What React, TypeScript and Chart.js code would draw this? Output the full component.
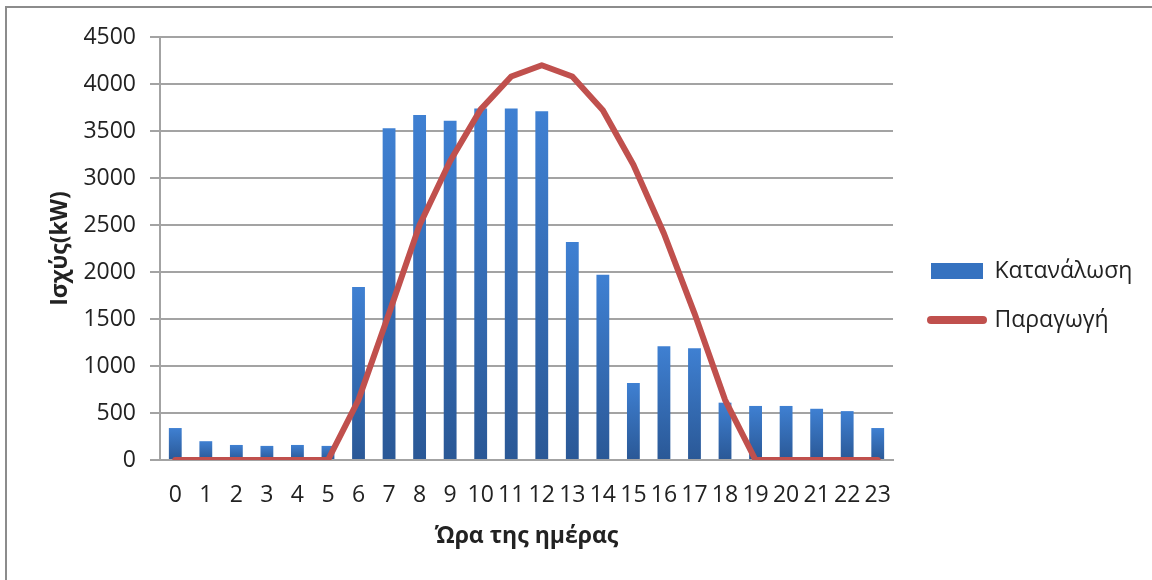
import React, { useEffect, useRef } from "react";
import { Chart, registerables } from "chart.js";

Chart.register(...registerables);

const hours = ["0","1","2","3","4","5","6","7","8","9","10","11","12","13","14","15","16","17","18","19","20","21","22","23"];
const consumption = [340, 200, 160, 150, 160, 150, 1840, 3530, 3670, 3610, 3740, 3740, 3710, 2320, 1970, 820, 1210, 1190, 610, 575, 575, 545, 520, 340];
const production = [0, 0, 0, 0, 0, 0, 640, 1560, 2500, 3180, 3730, 4080, 4200, 4080, 3720, 3140, 2410, 1560, 640, 0, 0, 0, 0, 0];
const yMin = 0;
const yMax = 4500;
const yStep = 500;
const seriesNames = ["Κατανάλωση", "Παραγωγή"];
const xTitle = "Ώρα της ημέρας";
const yTitle = "Ισχύς(kW)";

const FONT = "'Open Sans', 'Noto Sans', sans-serif";
const TEXT = "#222222";
const GRID = "#a3a3a3";
const BAR_TOP = "#3f80d2";
const BAR_BOTTOM = "#2a5896";
const RED = "#c0504d";

const legendNudge = {
  id: "legendNudge",
  afterLayout(chart: any) {
    const l = chart.legend;
    if (!l) return;
    l.left += 12;
    l.right += 12;
    l.top += 2;
    l.bottom += 2;
  },
};

export default function App() {
  const ref = useRef<HTMLCanvasElement | null>(null);

  useEffect(() => {
    if (!ref.current) return;
    const chart = new Chart(ref.current, {
      type: "bar",
      data: {
        labels: hours,
        datasets: [
          {
            type: "bar",
            label: seriesNames[0],
            data: consumption,
            order: 1,
            backgroundColor: (ctx: any) => {
              const c = ctx.chart;
              const area = c.chartArea;
              if (!area || ctx.type !== "data") return BAR_TOP;
              const top = c.scales.y.getPixelForValue(ctx.raw);
              const g = c.ctx.createLinearGradient(0, top, 0, area.bottom);
              g.addColorStop(0, BAR_TOP);
              g.addColorStop(1, BAR_BOTTOM);
              return g;
            },
            borderWidth: 0,
            categoryPercentage: 1,
            barPercentage: 0.42,
          } as any,
          {
            type: "line",
            label: seriesNames[1],
            data: production,
            order: 0,
            borderColor: RED,
            backgroundColor: RED,
            borderWidth: 6,
            pointRadius: 0,
            tension: 0,
            borderCapStyle: "round",
            borderJoinStyle: "round",
          } as any,
        ],
      },
      options: {
        responsive: false,
        animation: false,
        devicePixelRatio: 1,
        layout: { padding: { left: 0, top: 37, right: 29, bottom: 30 } },
        plugins: {
          tooltip: { enabled: false },
          legend: {
            position: "right",
            maxWidth: 230,
            labels: {
              usePointStyle: true,
              pointStyleWidth: 52,
              boxHeight: 16,
              padding: 26,
              color: TEXT,
              font: { family: FONT, size: 23 },
              generateLabels: () => [
                {
                  text: seriesNames[0],
                  fillStyle: "#3572c0",
                  strokeStyle: "#3572c0",
                  lineWidth: 0,
                  pointStyle: "rect",
                  hidden: false,
                  datasetIndex: 0,
                  fontColor: TEXT,
                } as any,
                {
                  text: seriesNames[1],
                  fillStyle: RED,
                  strokeStyle: RED,
                  lineWidth: 8,
                  lineCap: "round",
                  pointStyle: "line",
                  hidden: false,
                  datasetIndex: 1,
                  fontColor: TEXT,
                } as any,
              ],
            },
          },
        },
        scales: {
          x: {
            type: "category",
            grid: { display: false, drawTicks: false },
            border: { display: true, color: GRID, width: 2 },
            ticks: {
              autoSkip: false,
              maxRotation: 0,
              padding: 22,
              color: TEXT,
              font: { family: FONT, size: 23 },
            },
            title: {
              display: true,
              text: xTitle,
              color: TEXT,
              font: { family: FONT, size: 23, weight: "bold" },
              padding: { top: 0, bottom: 0 },
            },
            afterFit: (s: any) => {
              s.height = 90;
            },
          },
          y: {
            min: yMin,
            max: yMax,
            ticks: {
              stepSize: yStep,
              padding: 14,
              color: TEXT,
              font: { family: FONT, size: 23 },
              callback: (v: any) => String(v),
            },
            grid: { color: GRID, lineWidth: 2, tickLength: 10, drawTicks: true },
            border: { display: true, color: GRID, width: 2 },
            title: {
              display: true,
              text: yTitle,
              color: TEXT,
              font: { family: FONT, size: 23, weight: "bold" },
              padding: { top: 47, bottom: 0 },
            },
            afterFit: (s: any) => {
              s.width = 160;
            },
          },
        },
      },
      plugins: [legendNudge],
    } as any);
    return () => chart.destroy();
  }, []);

  return (
    <div style={{ position: "absolute", left: 0, top: 0, width: 1152, height: 580, background: "#fff" }}>
      <canvas ref={ref} width={1152} height={580} style={{ display: "block", width: 1152, height: 580 }} />
      <div
        style={{
          position: "absolute",
          left: 5,
          top: 6,
          width: 1160,
          height: 600,
          borderLeft: "2px solid #8c8c8c",
          borderTop: "2px solid #8c8c8c",
          pointerEvents: "none",
        }}
      />
    </div>
  );
}
